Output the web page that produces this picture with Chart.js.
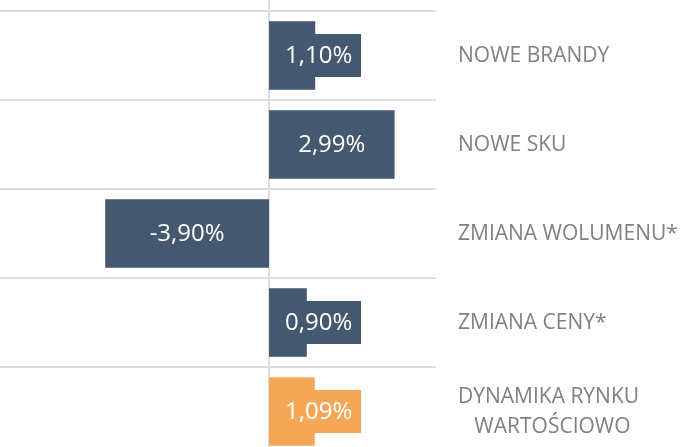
<!DOCTYPE html>
<html>
<head>
<meta charset="utf-8">
<script src="https://cdn.jsdelivr.net/npm/chart.js@4.4.1/dist/chart.umd.min.js"></script>
<style>
  html, body { margin: 0; padding: 0; background: #fff; overflow: hidden; }
  #wrap { position: relative; width: 685px; height: 456px; }
</style>
</head>
<body>
<div id="wrap"><canvas id="chart"></canvas></div>
<script>
// dane z wykresu
const categories = ['NOWE BRANDY', 'NOWE SKU', 'ZMIANA WOLUMENU*', 'ZMIANA CENY*', ['DYNAMIKA RYNKU', '   WARTOŚCIOWO']];
const values = [1.10, 2.99, -3.90, 0.90, 1.09];
const barColors = ['#44596f', '#44596f', '#44596f', '#44596f', '#f4a857'];

const GRID = '#dedede';

// pionowa linia zera na całą wysokość
const zeroLine = {
  id: 'zeroLine',
  beforeDatasetsDraw(chart) {
    const ctx = chart.ctx;
    const x = chart.scales.x.getPixelForValue(0);
    ctx.save();
    ctx.strokeStyle = GRID;
    ctx.lineWidth = 2;
    ctx.beginPath();
    ctx.moveTo(x, 0);
    ctx.lineTo(x, chart.height);
    ctx.stroke();
    ctx.restore();
  }
};

// etykiety z tłem w kolorze słupka + nazwy kategorii po prawej
const boxLabels = {
  id: 'boxLabels',
  afterDatasetsDraw(chart) {
    const ctx = chart.ctx;
    const meta = chart.getDatasetMeta(0);
    const zero = chart.scales.x.getPixelForValue(0);
    const yScale = chart.scales.y;
    ctx.save();
    ctx.textBaseline = 'middle';
    meta.data.forEach((bar, i) => {
      const v = values[i];
      const txt = v.toFixed(2).replace('.', ',') + '%';
      ctx.font = '24px "Open Sans"';
      ctx.textAlign = 'center';
      const w = ctx.measureText(txt).width + 18;
      const h = 43;
      let cx = (bar.x + bar.base) / 2;
      if (v >= 0) cx = Math.max(cx, zero + w / 2 + 7);
      else cx = Math.min(cx, zero - w / 2 - 7);
      ctx.fillStyle = barColors[i];
      ctx.fillRect(Math.round(cx - w / 2), Math.round(bar.y - h / 2), Math.round(w), h);
      ctx.fillStyle = '#ffffff';
      ctx.fillText(txt, cx, bar.y + 1);

      // nazwa kategorii
      const lines = [].concat(categories[i]);
      const lh = 30;
      const yc = yScale.getPixelForValue(i);
      ctx.font = '21px "Open Sans"';
      ctx.textAlign = 'left';
      ctx.fillStyle = '#808080';
      lines.forEach((ln, k) => {
        ctx.fillText(ln, chart.chartArea.right + 22, yc + 1 + (k - (lines.length - 1) / 2) * lh);
      });
    });
    ctx.restore();
  }
};

new Chart(document.getElementById('chart'), {
  type: 'bar',
  data: {
    labels: categories,
    datasets: [{
      data: values,
      backgroundColor: barColors,
      borderWidth: 0,
      categoryPercentage: 1,
      barPercentage: 0.77
    }]
  },
  options: {
    indexAxis: 'y',
    responsive: true,
    maintainAspectRatio: false,
    animation: false,
    layout: { padding: { top: 11, left: 0, right: 0, bottom: 0 } },
    plugins: {
      legend: { display: false },
      tooltip: { enabled: false }
    },
    scales: {
      x: {
        display: false,
        min: -6.405,
        max: 3.976
      },
      y: {
        position: 'right',
        border: { display: false },
        grid: { color: GRID, lineWidth: 2, drawTicks: false, offset: true },
        ticks: { display: false },
        afterFit(scale) { scale.width = 249; }
      }
    }
  },
  plugins: [zeroLine, boxLabels]
});
</script>
</body>
</html>
